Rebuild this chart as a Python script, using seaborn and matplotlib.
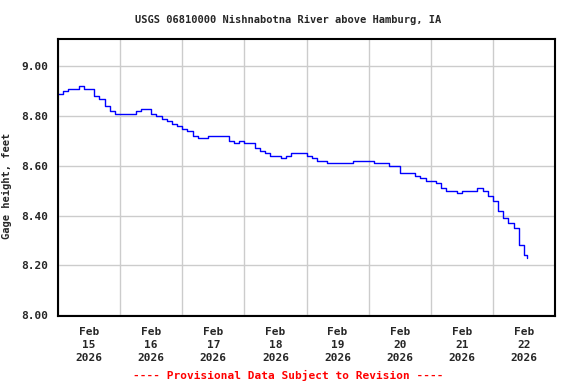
import numpy as np
import pandas as pd
import seaborn as sns
import matplotlib
matplotlib.use("Agg")
import matplotlib.pyplot as plt
import matplotlib.dates as mdates

title = "USGS 06810000 Nishnabotna River above Hamburg, IA"
ylabel = "Gage height, feet"
footer = "---- Provisional Data Subject to Revision ----"

start = "2026-02-15 00:00"
step_hours = 2
# gage height readings, every 2 hours from Feb 15 00:00
gage_ft = [
    8.89, 8.90, 8.91, 8.91, 8.92, 8.91, 8.91, 8.88, 8.87, 8.84,
    8.82, 8.81, 8.81, 8.81, 8.81, 8.82, 8.83, 8.83, 8.81, 8.80,
    8.79, 8.78, 8.77, 8.76, 8.75, 8.74, 8.72, 8.71, 8.71, 8.72,
    8.72, 8.72, 8.72, 8.70, 8.69, 8.70, 8.69, 8.69, 8.67, 8.66,
    8.65, 8.64, 8.64, 8.63, 8.64, 8.65, 8.65, 8.65, 8.64, 8.63,
    8.62, 8.62, 8.61, 8.61, 8.61, 8.61, 8.61, 8.62, 8.62, 8.62,
    8.62, 8.61, 8.61, 8.61, 8.60, 8.60, 8.57, 8.57, 8.57, 8.56,
    8.55, 8.54, 8.54, 8.53, 8.51, 8.50, 8.50, 8.49, 8.50, 8.50,
    8.50, 8.51, 8.50, 8.48, 8.46, 8.42, 8.39, 8.37, 8.35, 8.28,
    8.24, 8.23,
]
y_ticks = [8.00, 8.20, 8.40, 8.60, 8.80, 9.00]

df = pd.DataFrame({
    "time": pd.date_range(start, periods=len(gage_ft), freq=f"{step_hours}h"),
    "gage": gage_ft,
})
# last reading is logged one hour after the one before it
df.loc[df.index[-1], "time"] = df["time"].iloc[-2] + pd.Timedelta(hours=1)

sns.set_style("white")
plt.rcParams["font.family"] = ["DejaVu Sans Mono"]
plt.rcParams["font.weight"] = "bold"

fig = plt.figure(figsize=(5.76, 3.84), dpi=100)
ax = fig.add_axes([58 / 576, 1 - 316 / 384, 497 / 576, 277 / 384])

sns.lineplot(data=df, x="time", y="gage", ax=ax, color="#0000ff",
             linewidth=1.0, drawstyle="steps-post")

ax.set_xlim(pd.Timestamp("2026-02-15"), pd.Timestamp("2026-02-23"))
ax.set_ylim(7.996, 9.11)

ax.xaxis.set_major_locator(mdates.DayLocator())
ax.xaxis.set_major_formatter(plt.NullFormatter())
ax.xaxis.set_minor_locator(mdates.HourLocator(byhour=[12]))
ax.xaxis.set_minor_formatter(mdates.DateFormatter("%b\n%d\n%Y"))
ax.set_yticks(y_ticks)
ax.set_yticklabels([f"{v:.2f}" for v in y_ticks])

ax.grid(True, which="major", color="#cccccc", linewidth=1.0)
ax.tick_params(which="both", length=0, labelsize=8)
ax.tick_params(axis="x", which="minor", pad=8)
ax.tick_params(axis="y", pad=7)
for lbl in ax.get_xticklabels(minor=True) + ax.get_yticklabels():
    lbl.set_fontweight("bold")
    lbl.set_linespacing(1.35)

for s in ax.spines.values():
    s.set_color("black")
    s.set_linewidth(1.5)

ax.set_xlabel("")
ax.set_ylabel(ylabel, fontsize=7.5, fontweight="bold")
ax.yaxis.set_label_coords(-0.092, 0.47)
fig.text(0.5, 1 - 20 / 384, title, ha="center", va="center",
         fontsize=7.5, fontweight="bold")
fig.text(0.5, 1 - 375 / 384, footer, ha="center", va="center",
         fontsize=8, fontweight="bold", color="red")

fig.savefig("out.png", dpi=100)
